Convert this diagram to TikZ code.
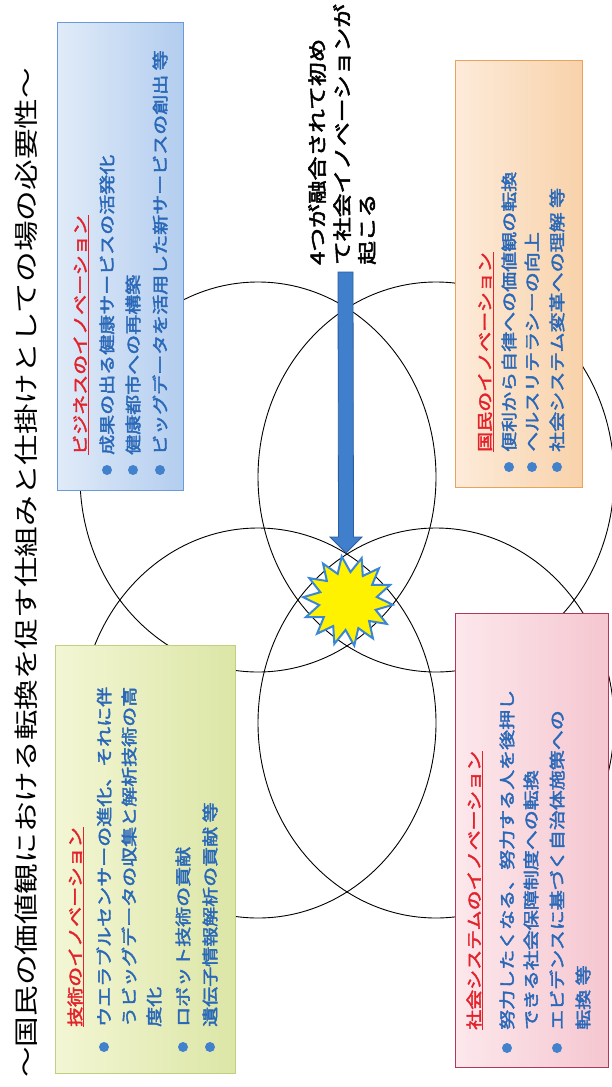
\documentclass[tikz,border=0pt]{standalone}
\usepackage{fontspec}
\newfontfamily\jp[FakeStretch=1.25]{Noto Sans CJK JP}
\newfontfamily\jpb[FakeStretch=1.25,FakeBold=2.6]{Noto Sans CJK JP}
\usetikzlibrary{shapes.geometric,calc}
\definecolor{txtblue}{HTML}{2A68B8}
\definecolor{headred}{HTML}{E3222B}
\definecolor{bulletblue}{HTML}{4282CC}
\definecolor{arrowblue}{HTML}{3F7FCC}
\definecolor{arrowedge}{HTML}{2A5C9E}
\definecolor{starblue}{HTML}{3A86D8}
\definecolor{starfill}{HTML}{FFF200}
\definecolor{bizL}{HTML}{E0EBF8}
\definecolor{bizR}{HTML}{B3CDEF}
\definecolor{bizD}{HTML}{6A9BD8}
\definecolor{techL}{HTML}{F3F6D4}
\definecolor{techR}{HTML}{DCE6A6}
\definecolor{techD}{HTML}{C2CF80}
\definecolor{citL}{HTML}{FDEBDA}
\definecolor{citR}{HTML}{F8D2AA}
\definecolor{citD}{HTML}{E9A45C}
\definecolor{socL}{HTML}{FCE8EC}
\definecolor{socR}{HTML}{F5C6D0}
\definecolor{socD}{HTML}{B0385A}
\begin{document}
\begin{tikzpicture}[x=1pt,y=-1pt,
  txt/.style={rotate=90,anchor=west,inner sep=0pt,font=\jpb\fontsize{16}{16}\selectfont,text=txtblue},
  head/.style={txt,text=headred},
  msg/.style={txt,text=black,font=\jpb\fontsize{19}{19}\selectfont},
  uline/.style={draw=headred,line width=1pt},
  bullet/.style={circle,fill=bulletblue,inner sep=0pt,minimum size=10pt},
  ring/.style={draw=black,line width=0.9pt},
  panel/.style={rectangle,anchor=north west,inner sep=0pt,line width=1pt}]
\useasboundingbox (0,0) rectangle (611,1087);
\fill[white] (0,0) rectangle (611,1087);
% four overlapping ellipses
\draw[ring] (258,477) ellipse [x radius=178, y radius=195];
\draw[ring] (436,477) ellipse [x radius=178, y radius=195];
\draw[ring] (258,723) ellipse [x radius=178, y radius=195];
\draw[ring] (436,723) ellipse [x radius=178, y radius=195];
% title
\node[rotate=90,anchor=west,inner sep=0pt,font=\jp\fontsize{24.5}{24.5}\selectfont] (title) at (26,1078) {～国民の価値観における転換を促す仕組みと仕掛けとしての場の必要性～};
% business box
\node[panel,draw=bizD,left color=bizL,right color=bizR,minimum width=126pt,minimum height=468pt] (biz) at (57,22) {};
\node[head] (bizh) at (80,455) {ビジネスのイノベーション};
\draw[uline] ([xshift=1pt]bizh.south west) -- ([xshift=1pt]bizh.south east);
\node[bullet] (bizb1) at (107,470) {};
\node[bullet] (bizb2) at (133,470) {};
\node[bullet] (bizb3) at (160,470) {};
\node[txt] (biz1) at (107,455) {成果の出る健康サービスの活発化};
\node[txt] (biz2) at (133,455) {健康都市への再構築};
\node[txt] (biz3) at (160,455) {ビッグデータを活用した新サービスの創出 等};
% technology box
\node[panel,draw=techD,left color=techL,right color=techR,minimum width=180pt,minimum height=428pt] (tech) at (55,645) {};
\node[head] (techh) at (75,1027) {技術のイノベーション};
\draw[uline] ([xshift=1pt]techh.south west) -- ([xshift=1pt]techh.south east);
\node[bullet] (techb1) at (104,1047) {};
\node[bullet] (techb2) at (183,1047) {};
\node[bullet] (techb3) at (210,1047) {};
\node[txt] (tech1) at (104,1027) {ウエラブルセンサーの進化、それに伴};
\node[txt] (tech2) at (129,1027) {うビッグデータの収集と解析技術の高};
\node[txt] (tech3) at (154,1027) {度化};
\node[txt] (tech4) at (183,1027) {ロボット技術の貢献};
\node[txt] (tech5) at (210,1027) {遺伝子情報解析の貢献 等};
% citizens box
\node[panel,draw=citD,left color=citL,right color=citR,minimum width=127pt,minimum height=427pt] (cit) at (455,60) {};
\node[head] (cith) at (485,452) {国民のイノベーション};
\draw[uline] ([xshift=1pt]cith.south west) -- ([xshift=1pt]cith.south east);
\node[bullet] (citb1) at (509,467) {};
\node[bullet] (citb2) at (532,467) {};
\node[bullet] (citb3) at (557,467) {};
\node[txt] (cit1) at (509,452) {便利から自律への価値観の転換};
\node[txt] (cit2) at (532,452) {ヘルスリテラシーの向上};
\node[txt] (cit3) at (557,452) {社会システム変革への理解 等};
% social system box
\node[panel,draw=socD,left color=socL,right color=socR,minimum width=153pt,minimum height=454pt] (soc) at (455,613) {};
\node[head] (soch) at (474,1030) {社会システムのイノベーション};
\draw[uline] ([xshift=1pt]soch.south west) -- ([xshift=1pt]soch.south east);
\node[bullet] (socb1) at (507,1048) {};
\node[bullet] (socb2) at (557,1048) {};
\node[txt] (soc1) at (507,1030) {努力したくなる、努力する人を後押し};
\node[txt] (soc2) at (531,1030) {できる社会保障制度への転換};
\node[txt] (soc3) at (557,1030) {エビデンスに基づく自治体施策への};
\node[txt] (soc4) at (583,1030) {転換 等};
% center message
\node[msg] (msg1) at (317,265) {4つが融合されて初め};
\node[msg] (msg2) at (342,265) {て社会イノベーションが};
\node[msg] (msg3) at (367,265) {起こる};
% arrow
\coordinate (atop) at (345.5,272);
\coordinate (atip) at (346,553);
\filldraw[fill=arrowblue,draw=arrowedge,line width=0.8pt]
  ($(atop)+(-7.5,0)$) -- ($(atop)+(7.5,0)$) -- ($(atip)+(7.5,-16)$) -- ($(atip)+(16,-16)$)
  -- (atip) -- ($(atip)+(-16,-16)$) -- ($(atip)+(-7.5,-16)$) -- cycle;
% star
\node[star,star points=14,star point ratio=1.55,minimum size=90pt,inner sep=0pt,fill=starfill,draw=starblue,line width=2pt,rotate=8] (burst) at (348,601) {};
\end{tikzpicture}
\end{document}
